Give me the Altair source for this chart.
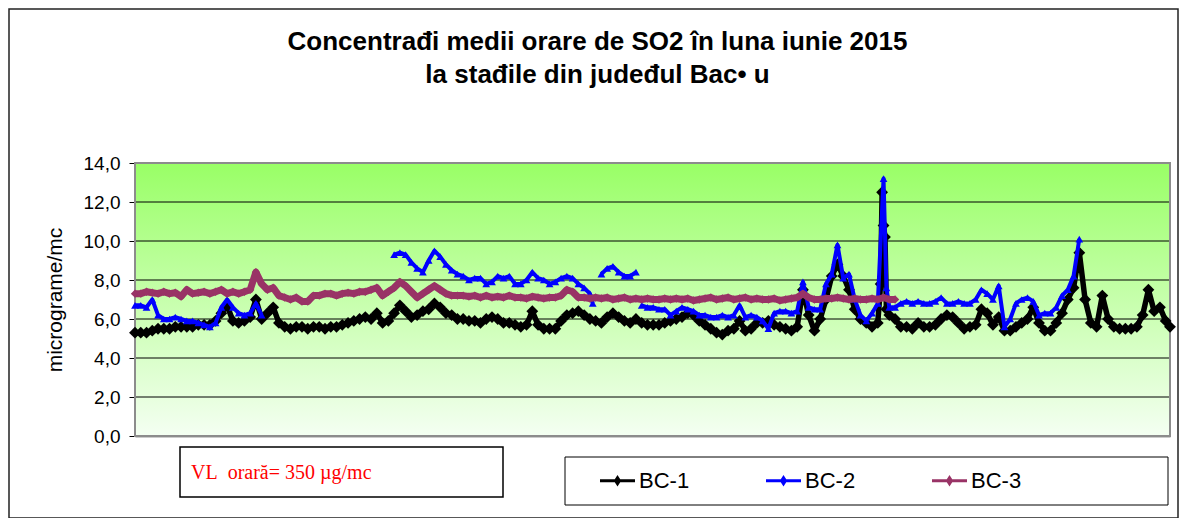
import altair as alt
import pandas as pd

# ---------------- data (hourly SO2, June 2015; read every 4 hours) ----------------
HOUR_STEP = 4
series_names = ["BC-1", "BC-2", "BC-3"]
series_colors = ["#000000", "#0000FF", "#993366"]
y_ticks = [0, 2, 4, 6, 8, 10, 12, 14]
grid_values = [2, 4, 6, 8, 10, 12]

bc1_start = 0
bc1_values = [
    5.3, 5.3, 5.3, 5.4, 5.5, 5.5, 5.5, 5.6, 5.6, 5.6,
    5.6, 5.7, 5.7, 5.7, 5.9, 6.3, 6.7, 5.9, 5.8, 5.9,
    6.1, 7.0, 6.0, 6.3, 6.6, 5.8, 5.6, 5.5, 5.6, 5.6,
    5.5, 5.6, 5.6, 5.5, 5.6, 5.6, 5.7, 5.8, 5.9, 6.0,
    6.1, 6.0, 6.3, 5.8, 5.9, 6.3, 6.7, 6.4, 6.1, 6.2,
    6.4, 6.5, 6.8, 6.6, 6.3, 6.2, 6.0, 6.0, 5.9, 5.9,
    5.8, 6.0, 6.1, 6.0, 5.8, 5.8, 5.7, 5.6, 5.7, 6.4,
    5.7, 5.5, 5.5, 5.5, 5.9, 6.2, 6.3, 6.4, 6.2, 6.0,
    5.9, 5.8, 6.1, 6.3, 6.1, 5.9, 5.8, 6.0, 5.8, 5.7,
    5.7, 5.7, 5.8, 5.9, 6.0, 6.1, 6.3, 6.2, 5.9, 5.7,
    5.5, 5.3, 5.2, 5.4, 5.5, 5.9, 5.4, 5.5, 5.8, 5.8,
    5.9, 5.7, 5.6, 5.5, 5.4, 5.6, 7.5, 6.2, 5.4, 6.0,
    7.0, 8.2, 8.8, 8.2, 7.5, 6.5, 6.0, 5.8, 5.6, 5.8,
    10.8, 6.2, 6.0, 5.6, 5.6, 5.5, 5.8, 5.6, 5.6, 5.7,
    6.0, 6.2, 6.1, 5.8, 5.5, 5.6, 5.7, 6.5, 6.3, 5.7,
    6.1, 5.4, 5.4, 5.6, 5.8, 6.0, 6.6, 5.8, 5.4, 5.4,
    5.8, 6.3, 7.0, 7.6, 9.4, 7.0, 5.8, 5.6, 7.2, 6.0,
    5.6, 5.5, 5.5, 5.5, 5.6, 6.2, 7.5, 6.4, 6.6, 5.9,
]
bc1_extra_hours = [518, 519, 521, 522, 719]
bc1_extra_values = [7.8, 12.5, 10.2, 6.5, 5.6]

bc2a_start = 0
bc2a_values = [6.7, 6.7, 6.6, 7.0, 6.2, 6.0, 6.0, 6.1, 6.0, 5.9, 5.9, 5.8,
               5.7, 5.6, 5.8, 6.6, 7.0, 6.6, 6.3, 6.2, 6.3, 6.8, 6.2]
bc2b_start = 180
bc2b_values = [9.3, 9.4, 9.3, 8.9, 8.6, 8.4, 9.0, 9.5, 9.2, 8.8,
               8.5, 8.3, 8.2, 8.0, 8.1, 8.1, 7.8, 7.9, 8.2, 8.1,
               8.2, 7.8, 7.8, 8.0, 8.4, 8.1, 8.0, 7.8, 7.9, 8.1,
               8.2, 8.1, 7.8, 7.6, 7.3]
bc2b_extra_hours = [318]
bc2b_extra_values = [6.8]
bc2c_start = 324
bc2c_values = [8.3, 8.6, 8.7, 8.4, 8.2, 8.2, 8.4]
bc2d_start = 352
bc2d_values = [
    6.7, 6.6, 6.6, 6.5, 6.5, 6.2, 6.4, 6.6, 6.5, 6.4,
    6.2, 6.2, 6.1, 6.1, 6.2, 6.1, 6.2, 6.7, 6.1, 6.2,
    6.1, 5.9, 5.5, 6.3, 6.4, 6.4, 6.3, 6.4, 7.9, 6.6,
    6.5, 6.5, 7.8, 8.3, 9.8, 8.1, 8.3, 7.0, 6.2, 5.9,
    6.3, 6.8, 13.2, 6.6, 6.6, 6.8, 6.9, 6.8, 6.9, 6.8,
    6.8, 6.9, 7.1, 6.8, 6.8, 6.9, 6.8, 6.8, 7.0, 7.5,
    7.3, 7.0, 7.7, 5.6, 6.0, 6.8, 7.0, 7.1, 6.9, 6.2,
    6.3, 6.3, 6.6, 7.2, 7.5, 8.2, 10.1,
]
bc2d_extra_hours = [522]
bc2d_extra_values = [7.6]

bc3_start = 0
bc3_values = [
    7.3, 7.3, 7.4, 7.35, 7.3, 7.4, 7.3, 7.35, 7.15, 7.5,
    7.3, 7.35, 7.4, 7.3, 7.4, 7.5, 7.3, 7.4, 7.3, 7.4,
    7.5, 8.4, 7.8, 7.5, 7.6, 7.2, 7.1, 7.0, 7.1, 6.9,
    6.9, 7.2, 7.2, 7.3, 7.3, 7.2, 7.3, 7.35, 7.3, 7.4,
    7.4, 7.5, 7.6, 7.2, 7.4, 7.6, 7.9, 7.7, 7.4, 7.1,
    7.3, 7.5, 7.7, 7.5, 7.3, 7.2, 7.2, 7.2, 7.15, 7.2,
    7.1, 7.2, 7.1, 7.15, 7.1, 7.2, 7.1, 7.1, 7.05, 7.15,
    7.1, 7.05, 7.1, 7.1, 7.2, 7.5, 7.4, 7.1, 7.1, 7.05,
    7.1, 7.05, 7.1, 7.0, 7.05, 7.1, 7.0, 7.05, 7.0, 7.05,
    7.0, 7.0, 7.05, 7.0, 7.05, 7.0, 7.05, 6.95, 7.0, 7.05,
    7.1, 7.0, 7.05, 7.1, 7.0, 7.05, 7.1, 7.0, 7.05, 7.0,
    7.0, 7.05, 6.95, 7.0, 7.05, 7.1, 7.3, 7.1, 7.0, 7.0,
    7.05, 7.05, 7.1, 7.05, 7.0, 7.05, 7.0, 7.0, 7.05, 7.0,
    7.1, 7.0, 7.0,
]

title_lines = ["Concentrađi medii orare de SO2 în luna iunie 2015",
               "la stađile din judeđul Bac• u"]
vl_note = "VL\u00a0\u00a0orară=\u00a0350\u00a0µg/mc"
y_title = "micrograme/mc"


def rows(series, seg, start, values, extra_h=(), extra_v=()):
    hours = [start + HOUR_STEP * k for k in range(len(values))] + list(extra_h)
    vals = list(values) + list(extra_v)
    df = pd.DataFrame({"hour": hours, "value": vals})
    df["series"] = series
    df["seg"] = f"{series}-{seg}"
    return df.sort_values("hour").reset_index(drop=True)


bc1_df = rows("BC-1", "a", bc1_start, bc1_values, bc1_extra_hours, bc1_extra_values)
bc2_df = pd.concat([
    rows("BC-2", "a", bc2a_start, bc2a_values),
    rows("BC-2", "b", bc2b_start, bc2b_values, bc2b_extra_hours, bc2b_extra_values),
    rows("BC-2", "c", bc2c_start, bc2c_values),
    rows("BC-2", "d", bc2d_start, bc2d_values, bc2d_extra_hours, bc2d_extra_values),
], ignore_index=True)
bc3_df = rows("BC-3", "a", bc3_start, bc3_values)

# ---------------- chart ----------------
W, H = 1035, 273
FONT = "Liberation Sans"
one = pd.DataFrame({"k": [0]})

xs = alt.Scale(domain=[0, 719], nice=False, zero=False)
ys = alt.Scale(domain=[0, 14], nice=False, zero=True)
cs = alt.Scale(domain=series_names, range=series_colors)

x_axis = alt.Axis(labels=False, ticks=False, grid=False, title=None,
                  domain=True, domainColor="#333333", domainWidth=1.5)
y_axis = alt.Axis(values=y_ticks, title=y_title, grid=False,
                  labelExpr="replace(format(datum.value, '.1f'), '.', ',')",
                  labelFont=FONT, labelFontSize=19, labelColor="black", labelPadding=9,
                  tickColor="black", tickSize=6, tickWidth=1,
                  domainColor="black", domainWidth=2,
                  titleFont=FONT, titleFontSize=21, titleFontWeight="normal",
                  titleColor="black", titlePadding=18)

bg = alt.Chart(one).mark_rect(
    color=alt.Gradient(gradient="linear",
                       stops=[alt.GradientStop(color="#99FF66", offset=0),
                              alt.GradientStop(color="#F4FFF2", offset=1)],
                       x1=0, x2=0, y1=0, y2=1)
).encode(x=alt.value(0), x2=alt.value(W), y=alt.value(0), y2=alt.value(H))

grid = alt.Chart(pd.DataFrame({"g": grid_values})).mark_rule(
    color="#000000", strokeWidth=1
).encode(y=alt.Y("g:Q", scale=ys, axis=y_axis))

plot_border = alt.Chart(one).mark_rect(
    fillOpacity=0, stroke="#8C8C8C", strokeWidth=2
).encode(x=alt.value(0), x2=alt.value(W), y=alt.value(0), y2=alt.value(H))

legend_path = "M-1,-0.09L1,-0.09L1,0.09L-1,0.09Z M0,-0.33L0.21,0L0,0.33L-0.21,0Z"
legend = alt.Legend(orient="none", legendX=465, legendY=300, direction="horizontal",
                    title=None, symbolType=legend_path, symbolSize=1225,
                    symbolStrokeWidth=0, labelFont=FONT, labelFontSize=22,
                    labelColor="black", labelOffset=4, columnPadding=76,
                    padding=0, labelLimit=0)


def layers(df, color, width, shape, size):
    base = alt.Chart(df).encode(
        x=alt.X("hour:Q", scale=xs, axis=x_axis),
        y=alt.Y("value:Q", scale=ys, axis=y_axis),
        detail="seg:N",
    )
    line = base.mark_line(color=color, strokeWidth=width, strokeJoin="round")
    pts = base.mark_point(shape=shape, size=size, filled=True, opacity=1).encode(
        color=alt.Color("series:N", scale=cs, legend=legend))
    return [line, pts]


s1 = layers(bc1_df, series_colors[0], 5.5, "diamond", 140)
s2 = layers(bc2_df, series_colors[1], 4, "triangle-up", 60)
s3 = layers(bc3_df, series_colors[2], 7, "diamond", 70)

vl_box = alt.Chart(one).mark_rect(fill="white", stroke="black", strokeWidth=1.5).encode(
    x=alt.value(45), x2=alt.value(368), y=alt.value(284), y2=alt.value(334))
vl_text = alt.Chart(one).mark_text(
    text=vl_note, font="Liberation Serif", fontSize=20, color="#FF0000",
    align="left", baseline="middle"
).encode(x=alt.value(56), y=alt.value(310))
legend_box = alt.Chart(one).mark_rect(fill="white", stroke="black", strokeWidth=1).encode(
    x=alt.value(430), x2=alt.value(1033), y=alt.value(294), y2=alt.value(342))
frame = alt.Chart(one).mark_rect(fillOpacity=0, stroke="#222222", strokeWidth=1.5).encode(
    x=alt.value(-126), x2=alt.value(1043), y=alt.value(-154), y2=alt.value(355))

chart = alt.layer(
    bg, grid, plot_border, *s1, *s2, *s3, vl_box, vl_text, legend_box, frame
).properties(
    width=W, height=H,
    autosize=alt.AutoSizeParams(type="none"),
    padding={"left": 127, "top": 155, "right": 9, "bottom": 82},
    title=alt.Title(text=title_lines, font=FONT, fontSize=26, fontWeight="bold",
                    color="black", anchor="middle", dx=-55, offset=-80, lineHeight=33),
).configure_view(stroke=None).configure(background="white")

chart.save("out.html", embed_options={"renderer": "svg", "actions": False})
